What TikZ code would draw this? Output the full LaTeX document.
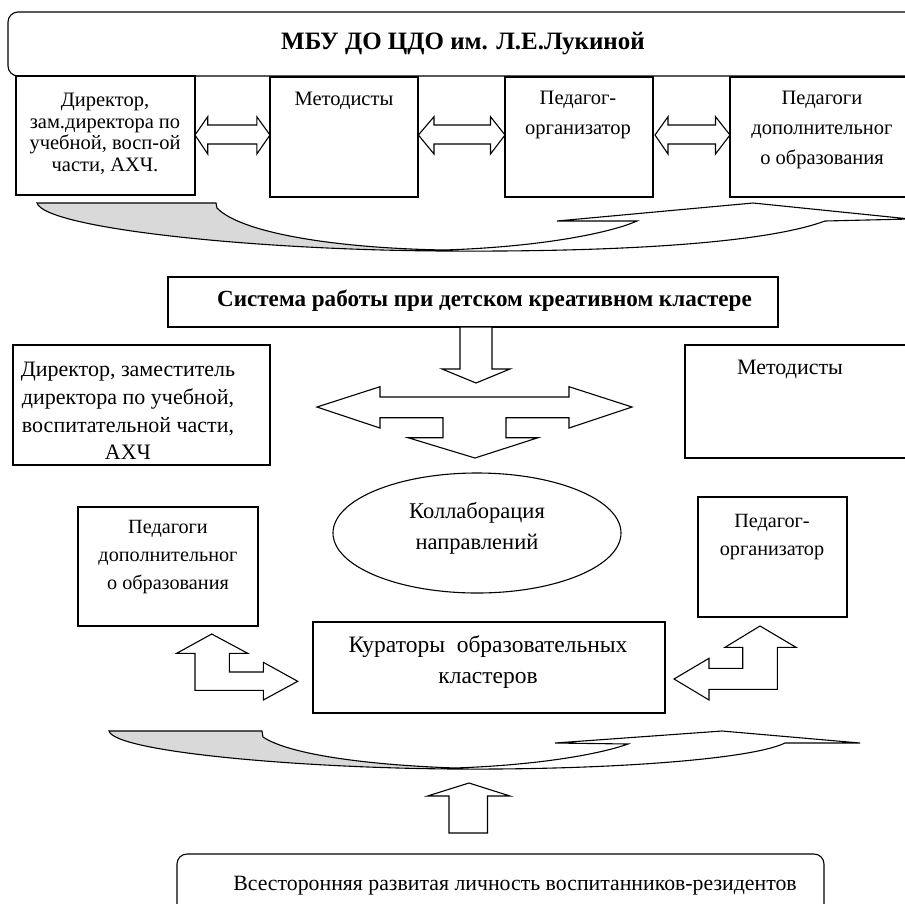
\documentclass[tikz,border=0pt]{standalone}
\usepackage{fontspec}
\setmainfont{Liberation Serif}
\usetikzlibrary{shapes.geometric}
\definecolor{arrowgray}{RGB}{217,217,217}
\begin{document}
\begin{tikzpicture}[x=1pt,y=-1pt,
  ln/.style={line width=1.1pt, line join=miter},
  box/.style={draw, line width=1.1pt, inner sep=0pt},
  txt/.style={align=center, inner sep=0pt},
  hol/.style={draw, line width=1.1pt, fill=white, line join=miter},
  fa/.style={font=\fontsize{20.5}{21.5}\selectfont},
  fb/.style={font=\fontsize{20.5}{30}\selectfont},
  fc/.style={font=\fontsize{22}{27.7}\selectfont},
  fd/.style={font=\fontsize{20.2}{28}\selectfont},
  fe/.style={font=\fontsize{22.5}{31}\selectfont},
]
\useasboundingbox (0,0) rectangle (905,903);
\fill[white] (0,0) rectangle (905,903);

% top block
\node[box, rounded corners=10pt, minimum width=907pt, minimum height=64pt] (title) at (461.5,44) {};
\node[txt, font=\fontsize{25}{30}\selectfont\bfseries] (titletext) at (463,44) {МБУ ДО ЦДО им. Л.Е.Лукиной};

\node[box, minimum width=179pt, minimum height=119pt] (b1) at (105.5,135.5) {};
\node[box, minimum width=148pt, minimum height=120pt] (b2) at (344,137) {};
\node[box, minimum width=148pt, minimum height=120pt] (b3) at (579,137) {};
\node[box, minimum width=185pt, minimum height=120pt] (b4) at (822.5,137) {};

\node[txt, fa] (t1) at (105,134) {Директор,\\зам.директора по\\учебной, восп-ой\\части, АХЧ.};
\node[txt, fa] (t2) at (344,101) {Методисты};
\node[txt, fb] (t3) at (578,115) {Педагог-\\организатор};
\node[txt, fb] (t4) at (822,130) {Педагоги\\дополнительног\\о образования};

% double arrows top row
\draw[hol] (195,135) -- (207.7,116.7) -- (207.7,125) -- (256.8,125) -- (256.8,116.7) -- (270,135) -- (256.8,154) -- (256.8,144) -- (207.7,144) -- (207.7,154) -- cycle;
\draw[hol] (418.4,135) -- (434,116.7) -- (434,125) -- (490.5,125) -- (490.5,116.7) -- (505,135) -- (490.5,154) -- (490.5,144) -- (434,144) -- (434,154) -- cycle;
\draw[hol] (655,135) -- (668,116.7) -- (668,125) -- (715.5,125) -- (715.5,116.7) -- (730,135) -- (715.5,154) -- (715.5,144) -- (668,144) -- (668,154) -- cycle;

% top curved arrow
\fill[arrowgray] (37,203) -- (216,203) -- (217,208) .. controls (240,232) and (330,248) .. (444,250) .. controls (250,250) and (45,228) .. (37,203) -- cycle;
\draw[ln] (37,203) -- (216,203) -- (217,208) .. controls (240,232) and (330,248) .. (444,250) .. controls (540,247) and (610,233) .. (637,221) -- (557,221) -- (753,203) -- (910,219) -- (825,221) .. controls (760,245) and (600,252) .. (444,251) .. controls (250,250) and (45,228) .. (37,203) -- cycle;

% system box
\node[box, minimum width=610pt, minimum height=50pt] (sys) at (473,302) {};
\node[txt, font=\fontsize{23.1}{27}\selectfont\bfseries] (systext) at (484.5,301) {Система работы при детском креативном кластере};

% down arrow
\draw[hol] (460,327) -- (492,327) -- (492,369) -- (510,369) -- (476,383) -- (442,369) -- (460,369) -- cycle;

% cross arrow
\draw[hol] (317,407) -- (380,386.7) -- (380,397) -- (569,397) -- (569,386.7) -- (632,407) -- (569,428) -- (569,417.7) -- (506,417.7) -- (506,437.7) -- (538,437.7) -- (475,458) -- (408,437.7) -- (443,437.7) -- (443,417.7) -- (380,417.7) -- (380,428) -- cycle;

% middle boxes
\node[box, minimum width=257pt, minimum height=120pt] (mL) at (141.5,405) {};
\node[txt, fc] (mLt) at (128,411) {Директор, заместитель\\директора по учебной,\\воспитательной части,\\АХЧ};
\node[box, minimum width=230pt, minimum height=113pt] (mR) at (800,401.5) {};
\node[txt, fc] (mRt) at (790,369) {Методисты};

\node[draw, ellipse, line width=1.1pt, minimum width=288pt, minimum height=120pt, inner sep=0pt] (ell) at (477,533) {};
\node[txt, fe] (ellt) at (477,528) {Коллаборация\\направлений};

\node[box, minimum width=180pt, minimum height=119pt] (pL) at (168,566.5) {};
\node[txt, fd] (pLt) at (168,557) {Педагоги\\дополнительног\\о образования};
\node[box, minimum width=149pt, minimum height=120pt] (pR) at (772.5,557) {};
\node[txt, fd] (pRt) at (772,537) {Педагог-\\организатор};

\node[box, minimum width=352pt, minimum height=91pt] (kur) at (489,667.5) {};
\node[txt, font=\fontsize{23.5}{31}\selectfont] (kurt) at (488,662) {Кураторы\ \ образовательных\\кластеров};

% bent arrows
\draw[hol] (211.7,634) -- (247.7,653.3) -- (229.3,653.3) -- (229.3,672) -- (263.3,672) -- (263.3,662.3) -- (297.7,681.3) -- (263.3,700) -- (263.3,690.3) -- (195,690.3) -- (195,653.3) -- (176.7,653.3) -- cycle;
\draw[hol] (760,626) -- (796,647.3) -- (777.3,647.3) -- (777.3,689.3) -- (709,689.3) -- (709,700) -- (674,679) -- (709,658.3) -- (709,668.3) -- (742.7,668.3) -- (742.7,647.3) -- (725,647.3) -- cycle;

% bottom curved arrow
\fill[arrowgray] (109,731) -- (262,731) -- (263,737) .. controls (290,755) and (370,765) .. (455,768) .. controls (300,768) and (115,752) .. (109,731) -- cycle;
\draw[ln] (109,731) -- (262,731) -- (263,737) .. controls (290,755) and (370,765) .. (455,768) .. controls (540,765) and (600,754) .. (628,744) -- (555,743) -- (722,731) -- (860,743) -- (785,743) .. controls (750,760) and (600,770) .. (455,769) .. controls (300,768) and (115,752) .. (109,731) -- cycle;

% up arrow
\draw[hol] (469,783) -- (510,796) -- (487.5,796) -- (487.5,833) -- (449,833) -- (449,796) -- (427.5,796) -- cycle;

% bottom box
\node[box, rounded corners=10pt, minimum width=647pt, minimum height=61pt] (res) at (500.5,884.5) {};
\node[txt, font=\fontsize{21.8}{26}\selectfont] (rest) at (515,886) {Всесторонняя развитая личность воспитанников-резидентов};
\end{tikzpicture}
\end{document}
